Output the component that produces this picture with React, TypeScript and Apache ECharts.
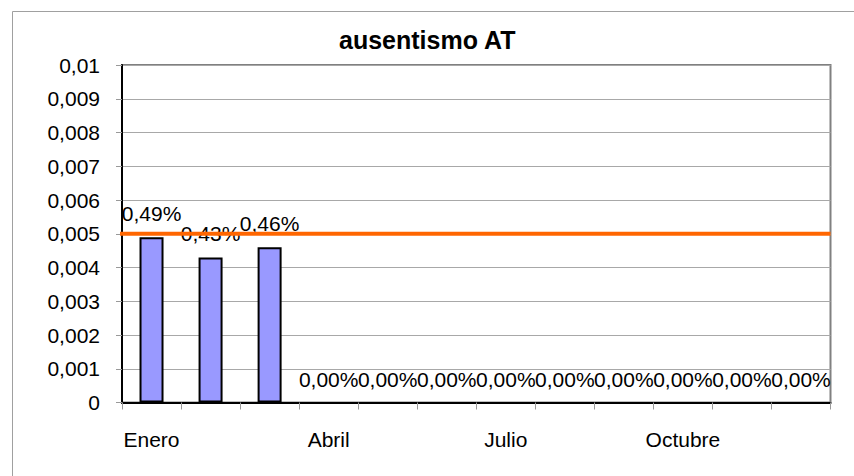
import React, { useEffect, useRef } from "react";
import * as echarts from "echarts";

const months = ["Enero", "Febrero", "Marzo", "Abril", "Mayo", "Junio", "Julio", "Agosto", "Septiembre", "Octubre", "Noviembre", "Diciembre"];
const values = [0.0049, 0.0043, 0.0046, 0, 0, 0, 0, 0, 0, 0, 0, 0];
const target = 0.005;
const yTicks = { min: 0, max: 0.01, interval: 0.001 };

const fmtPct = (v: number) => (v * 100).toFixed(2).replace(".", ",") + "%";
const fmtAxis = (v: number) => String(Math.round(v * 1000) / 1000).replace(".", ",");

export default function App() {
  const ref = useRef<HTMLDivElement>(null);
  useEffect(() => {
    document.body.style.margin = "0";
    const chart = echarts.init(ref.current!, null, { renderer: "svg" });
    const font = "Liberation Sans, Arial, sans-serif";
    chart.setOption({
      animation: false,
      backgroundColor: "#ffffff",
      textStyle: { fontFamily: font },
      title: {
        text: "ausentismo AT",
        left: 339,
        top: 27,
        padding: 0,
        textStyle: { fontFamily: font, fontSize: 25, fontWeight: "bold", color: "#000" },
      },
      graphic: [
        {
          type: "rect",
          shape: { x: 12.5, y: 11.5, width: 900, height: 500 },
          style: { fill: "none", stroke: "#a0a0a0", lineWidth: 1 },
          silent: true,
          z: 0,
        },
      ],
      grid: {
        left: 122,
        top: 65,
        right: 23.5,
        bottom: 73.5,
        show: true,
        borderColor: "#808080",
        borderWidth: 2,
        backgroundColor: "#ffffff",
      },
      xAxis: [
        {
          type: "category",
          data: months,
          boundaryGap: true,
          axisLine: { show: true, lineStyle: { color: "#000", width: 2 } },
          axisTick: { show: true, interval: 0, length: 7, lineStyle: { color: "#999" } },
          axisLabel: {
            interval: 2,
            margin: 26,
            fontSize: 21,
            color: "#000",
            fontFamily: font,
          },
          splitLine: { show: false },
        },
        {
          type: "value",
          min: 0,
          max: months.length,
          show: false,
          position: "bottom",
        },
      ],
      yAxis: {
        type: "value",
        min: yTicks.min,
        max: yTicks.max,
        interval: yTicks.interval,
        axisLine: { show: true, lineStyle: { color: "#000", width: 2 } },
        axisTick: { show: true, length: 6, lineStyle: { color: "#999" } },
        axisLabel: {
          formatter: fmtAxis,
          margin: 22,
          fontSize: 21,
          color: "#000",
          fontFamily: font,
        },
        splitLine: { show: true, lineStyle: { color: "#a8a8a8", width: 1 } },
      },
      series: [
        {
          type: "bar",
          xAxisIndex: 0,
          data: values.map((v) => (v === 0 ? { value: v, itemStyle: { borderWidth: 0 } } : v)),
          barWidth: 24,
          itemStyle: { color: "#9999FF", borderColor: "#000", borderWidth: 2 },
          label: {
            show: true,
            position: "top",
            distance: 13,
            formatter: (p: any) => fmtPct(p.value),
            fontSize: 21,
            lineHeight: 21,
            color: "#000",
            fontFamily: font,
          },
          z: 2,
        },
        {
          type: "line",
          xAxisIndex: 1,
          data: [
            [-0.1, target],
            [months.length, target],
          ],
          symbol: "none",
          lineStyle: { color: "#FF6600", width: 4 },
          clip: false,
          z: 3,
        },
      ],
    });
    return () => chart.dispose();
  }, []);
  return <div ref={ref} style={{ width: 854, height: 476 }} />;
}
